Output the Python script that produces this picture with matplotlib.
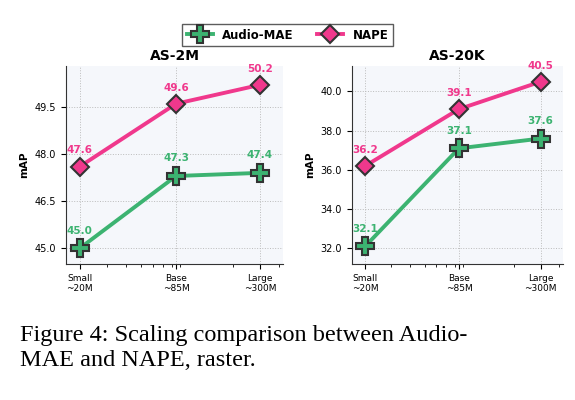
import matplotlib
matplotlib.use("Agg")
import matplotlib.pyplot as plt
import numpy as np

params = [20, 85, 300]
xlabels = ["Small\n~20M", "Base\n~85M", "Large\n~300M"]
as2m_audiomae = [45.0, 47.3, 47.4]
as2m_nape = [47.6, 49.6, 50.2]
as20k_audiomae = [32.1, 37.1, 37.6]
as20k_nape = [36.2, 39.1, 40.5]

green = "#3cb371"
pink = "#f0388c"
edge = "#333333"

fig = plt.figure(figsize=(5.75, 4), dpi=100)
ax1 = fig.add_axes([0.115, 0.34, 0.377, 0.495])
ax2 = fig.add_axes([0.612, 0.34, 0.367, 0.495])

def draw(ax, am, na, title, ylim, ticks, ticklabels):
    ax.set_facecolor("#f5f7fb")
    ax.set_xscale("log")
    l1, = ax.plot(params, am, color=green, lw=2.8, marker="P", ms=13, mfc=green, mec=edge, mew=1.5, label="Audio-MAE", zorder=3)
    l2, = ax.plot(params, na, color=pink, lw=2.8, marker="D", ms=9, mfc=pink, mec=edge, mew=1.5, label="NAPE", zorder=3)
    for x, v in zip(params, am):
        ax.annotate(f"{v:.1f}", (x, v), xytext=(0, 9), textcoords="offset points", ha="center", va="bottom", color=green, fontsize=7.5, fontweight="bold")
    for x, v in zip(params, na):
        ax.annotate(f"{v:.1f}", (x, v), xytext=(0, 8), textcoords="offset points", ha="center", va="bottom", color=pink, fontsize=7.5, fontweight="bold")
    ax.set_xlim(16.3, 423)
    ax.set_ylim(*ylim)
    ax.set_xticks(params)
    ax.set_xticklabels(xlabels, fontsize=6.5)
    ax.set_yticks(ticks)
    ax.set_yticklabels(ticklabels, fontsize=7)
    ax.set_ylabel("mAP", fontsize=7.5, fontweight="bold")
    ax.set_title(title, fontsize=10, pad=4, fontweight="bold")
    ax.grid(True, which="major", ls=":", color="#bbbbbb", lw=0.7)
    for s in ["top", "right"]:
        ax.spines[s].set_visible(False)
    for s in ["left", "bottom"]:
        ax.spines[s].set_color("#333333")
    ax.tick_params(which="minor", length=2)
    return l1, l2

l1, l2 = draw(ax1, as2m_audiomae, as2m_nape, "AS-2M", (44.5, 50.8), [45.0, 46.5, 48.0, 49.5], ["45.0", "46.5", "48.0", "49.5"])
draw(ax2, as20k_audiomae, as20k_nape, "AS-20K", (31.2, 41.3), [32, 34, 36, 38, 40], ["32.0", "34.0", "36.0", "38.0", "40.0"])

fig.legend([l1, l2], ["Audio-MAE", "NAPE"], loc="upper center", bbox_to_anchor=(0.5, 0.955), ncol=2,
           prop={"size": 8.5, "weight": "bold"}, frameon=True, fancybox=False, edgecolor="#333333", handlelength=2.2)

fig.text(0.035, 0.13, "Figure 4: Scaling comparison between Audio-\nMAE and NAPE, raster.", fontsize=17.5,
         family="Liberation Serif", va="center", ha="left", linespacing=1.2)

fig.savefig("out.png", dpi=100)
